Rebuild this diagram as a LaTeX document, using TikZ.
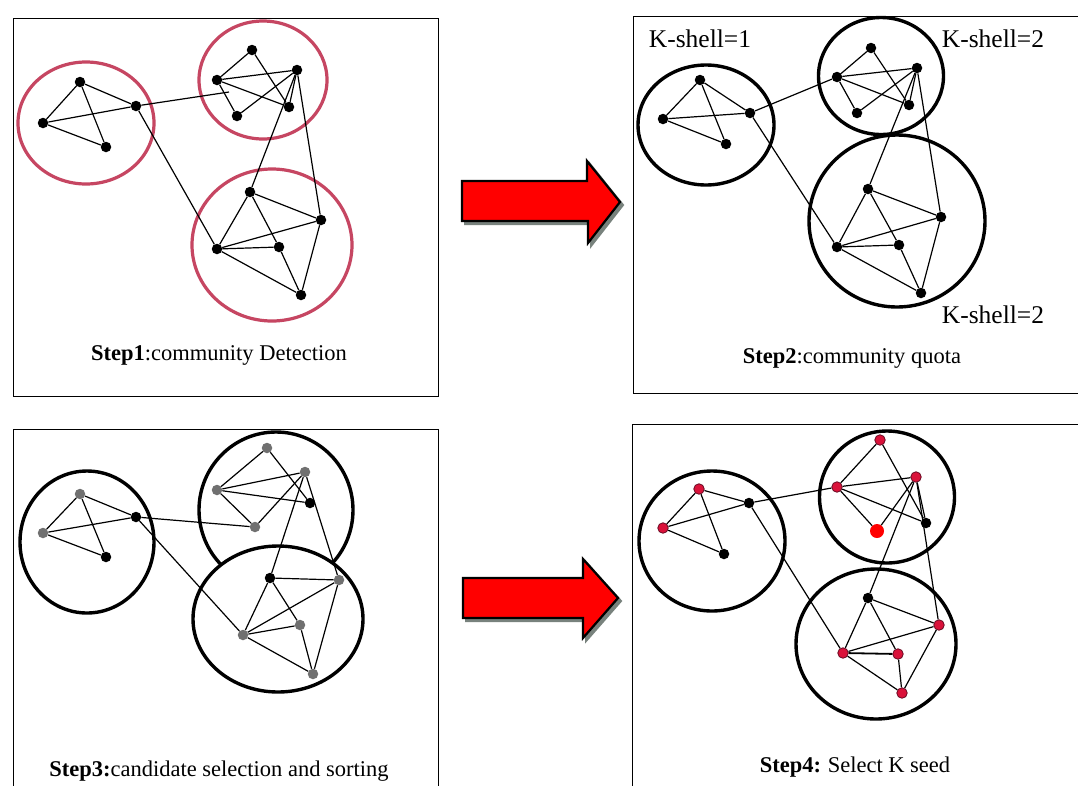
\documentclass[tikz,border=0pt]{standalone}
\usepackage{fontspec}
\setmainfont{Liberation Serif}
\usetikzlibrary{shapes.geometric}
\definecolor{commred}{RGB}{198,70,98}
\definecolor{seedred}{RGB}{218,18,58}
\definecolor{seededge}{RGB}{105,10,35}
\definecolor{candgray}{RGB}{112,112,112}
\definecolor{arrowred}{RGB}{255,0,0}
\definecolor{shadowgray}{RGB}{120,130,125}
\begin{document}
\begin{tikzpicture}[x=1pt,y=-1pt,
  panel/.style={draw=black,line width=1pt},
  dotk/.style={circle,fill=black,inner sep=0pt,minimum size=10.5pt},
  dotg/.style={circle,fill=candgray,inner sep=0pt,minimum size=10.5pt},
  dotr/.style={circle,fill=seedred,draw=seededge,line width=0.8pt,inner sep=0pt,minimum size=10.5pt},
  dotR/.style={circle,fill=arrowred,inner sep=0pt,minimum size=14pt},
  link/.style={draw=black,line width=1.2pt},
  comm/.style={ellipse,draw=black,line width=3.4pt,inner sep=0pt},
  commr/.style={ellipse,draw=commred,line width=3.2pt,inner sep=0pt},
  steptext/.style={font=\fontsize{22.5}{25}\selectfont,anchor=base,inner sep=0pt},
  kshell/.style={font=\fontsize{25.5}{28}\selectfont,anchor=base,inner sep=0pt},
  bigarrow/.style={fill=arrowred,draw=black,line width=2.2pt,line join=miter},
  arrowshadow/.style={fill=shadowgray,draw=shadowgray,line width=2pt}
]
\useasboundingbox (0,0) rectangle (1078,785);
\clip (0,0) rectangle (1078,785);
\fill[white] (0,0) rectangle (1078,785);

% ---------------- panels ----------------
\draw[panel] (13,18) rectangle (438,396);
\draw[panel] (633,16) rectangle (1100,393);
\draw[panel] (13,429) rectangle (438,800);
\draw[panel] (632,424) rectangle (1100,800);

% ---------------- arrows ----------------
\path[arrowshadow] (465,184) -- (590,184) -- (590,164) -- (623,205) -- (591,246) -- (591,224) -- (465,224) -- cycle;
\path[bigarrow] (462,181) -- (587,181) -- (587,161) -- (620,202) -- (588,243) -- (588,221) -- (462,221) -- cycle;
\path[arrowshadow] (466,581) -- (586,581) -- (586,562) -- (621,601) -- (586,641) -- (586,621) -- (466,621) -- cycle;
\path[bigarrow] (463,578) -- (583,578) -- (583,559) -- (618,598) -- (583,638) -- (583,618) -- (463,618) -- cycle;

% ================= Step 1 =================
\node[commr,minimum width=136pt,minimum height=122pt] (p1A) at (86,123) {};
\node[commr,minimum width=128pt,minimum height=118pt] (p1B) at (263,80) {};
\node[commr,minimum width=160pt,minimum height=152pt] (p1C) at (272,245) {};
\node[dotk] (p1a1) at (80,82) {};
\node[dotk] (p1a2) at (136,106) {};
\node[dotk] (p1a3) at (43,123) {};
\node[dotk] (p1a4) at (106,147) {};
\node[dotk] (p1b1) at (252,50) {};
\node[dotk] (p1b2) at (297,70) {};
\node[dotk] (p1b3) at (217,80) {};
\node[dotk] (p1b4) at (289,107) {};
\node[dotk] (p1b5) at (237,116) {};
\node[dotk] (p1c1) at (250,192) {};
\node[dotk] (p1c2) at (321,220) {};
\node[dotk] (p1c3) at (217,249) {};
\node[dotk] (p1c4) at (279,247) {};
\node[dotk] (p1c5) at (301,295) {};
\coordinate (p1j) at (229,92);
\draw[link] (p1a1) -- (p1a3);
\draw[link] (p1a1) -- (p1a2);
\draw[link] (p1a1) -- (p1a4);
\draw[link] (p1a3) -- (p1a2);
\draw[link] (p1a3) -- (p1a4);
\draw[link] (p1a2) -- (p1j);
\draw[link] (p1a2) -- (p1c3);
\draw[link] (p1b1) -- (p1b3);
\draw[link] (p1b1) -- (p1b4);
\draw[link] (p1b3) -- (p1b2);
\draw[link] (p1b3) -- (p1b4);
\draw[link] (p1b3) -- (p1b5);
\draw[link] (p1b5) -- (p1b2);
\draw[link] (p1b2) -- (p1b4);
\draw[link] (p1b2) -- (p1c1);
\draw[link] (p1b2) -- (p1c2);
\draw[link] (p1c1) -- (p1c3);
\draw[link] (p1c1) -- (p1c2);
\draw[link] (p1c1) -- (p1c4);
\draw[link] (p1c3) -- (p1c2);
\draw[link] (p1c3) -- (p1c4);
\draw[link] (p1c3) -- (p1c5);
\draw[link] (p1c4) -- (p1c5);
\draw[link] (p1c2) -- (p1c5);
\node[steptext] (t1) at (219,360) {\textbf{Step1}:community Detection};

% ================= Step 2 =================
\node[comm,minimum width=136pt,minimum height=120pt] (p2A) at (706,125) {};
\node[comm,minimum width=125pt,minimum height=117pt] (p2B) at (881,76) {};
\node[comm,minimum width=176pt,minimum height=172pt] (p2C) at (897,221) {};
\node[dotk] (p2a1) at (700,80) {};
\node[dotk] (p2a2) at (750,113) {};
\node[dotk] (p2a3) at (663,119) {};
\node[dotk] (p2a4) at (726,144) {};
\node[dotk] (p2b1) at (871,48) {};
\node[dotk] (p2b2) at (917,68) {};
\node[dotk] (p2b3) at (837,77) {};
\node[dotk] (p2b4) at (909,105) {};
\node[dotk] (p2b5) at (857,113) {};
\node[dotk] (p2c1) at (868,189) {};
\node[dotk] (p2c2) at (941,217) {};
\node[dotk] (p2c3) at (837,247) {};
\node[dotk] (p2c4) at (899,245) {};
\node[dotk] (p2c5) at (921,293) {};
\draw[link] (p2a1) -- (p2a3);
\draw[link] (p2a1) -- (p2a2);
\draw[link] (p2a1) -- (p2a4);
\draw[link] (p2a3) -- (p2a2);
\draw[link] (p2a3) -- (p2a4);
\draw[link] (p2a2) -- (p2b3);
\draw[link] (p2a2) -- (p2c3);
\draw[link] (p2b1) -- (p2b3);
\draw[link] (p2b1) -- (p2b4);
\draw[link] (p2b3) -- (p2b2);
\draw[link] (p2b3) -- (p2b4);
\draw[link] (p2b3) -- (p2b5);
\draw[link] (p2b5) -- (p2b2);
\draw[link] (p2b2) -- (p2b4);
\draw[link] (p2b2) -- (p2c1);
\draw[link] (p2b2) -- (p2c2);
\draw[link] (p2c1) -- (p2c3);
\draw[link] (p2c1) -- (p2c2);
\draw[link] (p2c1) -- (p2c4);
\draw[link] (p2c3) -- (p2c2);
\draw[link] (p2c3) -- (p2c4);
\draw[link] (p2c3) -- (p2c5);
\draw[link] (p2c4) -- (p2c5);
\draw[link] (p2c2) -- (p2c5);
\node[kshell] (k1) at (700,47) {K-shell=1};
\node[kshell] (k2) at (993,47) {K-shell=2};
\node[kshell] (k3) at (993,323) {K-shell=2};
\node[steptext] (t2) at (852,363) {\textbf{Step2}:community quota};

% ================= Step 3 =================
\node[comm,minimum width=134pt,minimum height=142pt] (p3A) at (87,542) {};
\node[comm,minimum width=154pt,minimum height=156pt] (p3B) at (276,510) {};
\node[comm,fill=white,minimum width=170pt,minimum height=146pt] (p3C) at (278,619) {};
\node[dotg] (p3a1) at (80,494) {};
\node[dotk] (p3a2) at (136,517) {};
\node[dotg] (p3a3) at (43,533) {};
\node[dotk] (p3a4) at (106,557) {};
\node[dotg] (p3b1) at (267,448) {};
\node[dotg] (p3b2) at (305,472) {};
\node[dotg] (p3b3) at (217,490) {};
\node[dotk] (p3b4) at (310,503) {};
\node[dotg] (p3b5) at (255,527) {};
\node[dotk] (p3c1) at (270,578) {};
\node[dotg] (p3c2) at (339,580) {};
\node[dotg] (p3c3) at (243,635) {};
\node[dotg] (p3c4) at (300,625) {};
\node[dotg] (p3c5) at (313,674) {};
\draw[link] (p3a1) -- (p3a3);
\draw[link] (p3a1) -- (p3a2);
\draw[link] (p3a1) -- (p3a4);
\draw[link] (p3a3) -- (p3a2);
\draw[link] (p3a3) -- (p3a4);
\draw[link] (p3a2) -- (p3b5);
\draw[link] (p3a2) -- (p3c3);
\draw[link] (p3b1) -- (p3b3);
\draw[link] (p3b1) -- (p3b4);
\draw[link] (p3b3) -- (p3b2);
\draw[link] (p3b3) -- (p3b4);
\draw[link] (p3b3) -- (p3b5);
\draw[link] (p3b5) -- (p3b2);
\draw[link] (p3b2) -- (p3c1);
\draw[link] (p3b2) -- (p3c2);
\draw[link] (p3c1) -- (p3c3);
\draw[link] (p3c1) -- (p3c2);
\draw[link] (p3c1) -- (p3c4);
\draw[link] (p3c3) -- (p3c2);
\draw[link] (p3c3) -- (p3c4);
\draw[link] (p3c3) -- (p3c5);
\draw[link] (p3c4) -- (p3c5);
\draw[link] (p3c2) -- (p3c5);
\node[steptext] (t3) at (219,776) {\textbf{Step3:}candidate selection and sorting};

% ================= Step 4 =================
\node[comm,minimum width=146pt,minimum height=140pt] (p4A) at (712,541) {};
\node[comm,minimum width=135pt,minimum height=132pt] (p4B) at (887,497) {};
\node[comm,minimum width=160pt,minimum height=150pt] (p4C) at (876,644) {};
\node[dotr] (p4a1) at (699,489) {};
\node[dotk] (p4a2) at (749,503) {};
\node[dotr] (p4a3) at (663,528) {};
\node[dotk] (p4a4) at (724,554) {};
\node[dotr] (p4b1) at (880,440) {};
\node[dotr] (p4b2) at (916,477) {};
\node[dotr] (p4b3) at (837,487) {};
\node[dotk] (p4b4) at (926,523) {};
\node[dotR] (p4b5) at (877,531) {};
\node[dotk] (p4c1) at (868,598) {};
\node[dotr] (p4c2) at (939,625) {};
\node[dotr] (p4c3) at (843,653) {};
\node[dotr] (p4c4) at (898,654) {};
\node[dotr] (p4c5) at (902,693) {};
\draw[link] (p4a1) -- (p4a3);
\draw[link] (p4a1) -- (p4a2);
\draw[link] (p4a1) -- (p4a4);
\draw[link] (p4a3) -- (p4a2);
\draw[link] (p4a3) -- (p4a4);
\draw[link] (p4a2) -- (p4b3);
\draw[link] (p4a2) -- (p4c3);
\draw[link] (p4b1) -- (p4b3);
\draw[link] (p4b1) -- (p4b4);
\draw[link] (p4b3) -- (p4b2);
\draw[link] (p4b3) -- (p4b4);
\draw[link] (p4b3) -- (p4b5);
\draw[link] (p4b5) -- (p4b2);
\draw[link] (p4b2) -- (p4b4);
\draw[link] (p4b2) -- (p4c1);
\draw[link] (p4b2) -- (p4c2);
\draw[link] (p4c1) -- (p4c3);
\draw[link] (p4c1) -- (p4c2);
\draw[link] (p4c1) -- (p4c4);
\draw[link] (p4c3) -- (p4c2);
\draw[link,line width=1.8pt] (p4c3) -- (p4c4);
\draw[link] (p4c3) -- (p4c5);
\draw[link] (p4c4) -- (p4c5);
\draw[link] (p4c2) -- (p4c5);
\node[steptext] (t4) at (855,772) {\textbf{Step4}\textbf{:}\hspace{0.3em}Select K seed};
\end{tikzpicture}
\end{document}
